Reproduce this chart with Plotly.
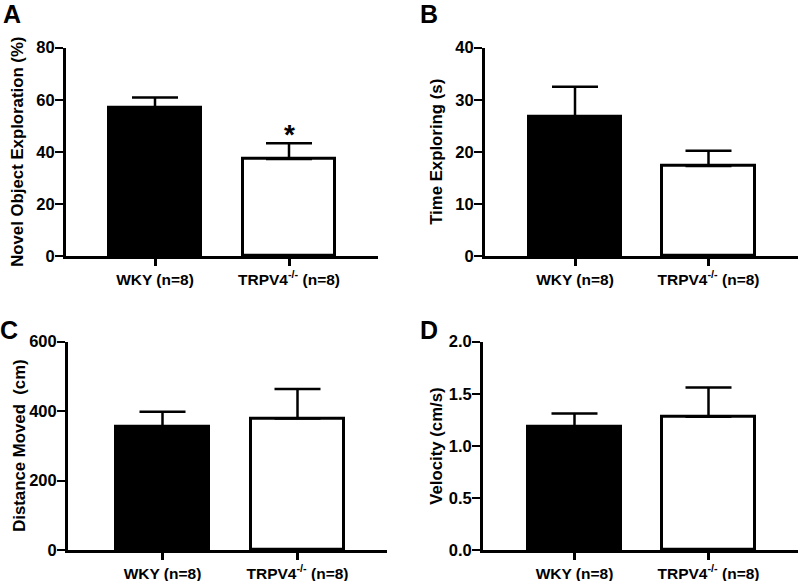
import plotly.graph_objects as go

W, H = 800, 581

categories = ["WKY (n=8)", "TRPV4<sup>-/-</sup> (n=8)"]
bar_colors = ["black", "white"]

a_mean = [57.0, 37.3]
a_err = [3.9, 6.0]
b_mean = [26.8, 17.3]
b_err = [5.7, 2.9]
c_mean = [355, 379]
c_err = [43, 85]
d_mean = [1.18, 1.28]
d_err = [0.13, 0.28]

a_ticks = [0, 20, 40, 60, 80]
b_ticks = [0, 10, 20, 30, 40]
c_ticks = [0, 200, 400, 600]
d_ticks = [0.0, 0.5, 1.0, 1.5, 2.0]

titles = ["Novel Object Exploration (%)", "Time Exploring (s)",
          "Distance Moved  (cm)", "Velocity (cm/s)"]
letters = ["A", "B", "C", "D"]

FONT = "Arial, Liberation Sans, sans-serif"

# pixel layout: (axis left, axis right, y bottom, y top, bar centre 1, bar centre 2, title x, letter x, letter y)
panels = [
    (a_mean, a_err, a_ticks, 66, 378, 256, 47.7, 155, 289, 18, 12, 14),
    (b_mean, b_err, b_ticks, 485, 798, 256, 47.7, 575, 708.5, 437, 429, 14),
    (c_mean, c_err, c_ticks, 68, 387, 550, 341.7, 162.5, 297.5, 20, 9, 330),
    (d_mean, d_err, d_ticks, 483, 798, 550, 341.7, 574.5, 708.5, 437, 429, 330),
]

fig = go.Figure()
annotations = []
for i, (mean, err, ticks, xl, xr, yb, yt, c1, c2, tx, lx, ly) in enumerate(panels):
    n = "" if i == 0 else str(i + 1)
    s = c2 - c1
    xrange = [-(c1 - xl) / s, 1 + (xr - c2) / s]
    fig.add_trace(go.Bar(
        x=[0, 1], y=mean, width=0.69,
        marker=dict(color=bar_colors, line=dict(color="black", width=3)),
        error_y=dict(type="data", array=err, arrayminus=[0, 0], symmetric=False,
                     color="black", thickness=2.5, width=23),
        xaxis="x" + n, yaxis="y" + n, showlegend=False, hoverinfo="skip",
    ))
    fig.layout["xaxis" + n] = dict(
        domain=[xl / W, xr / W], range=xrange, anchor="y" + n, automargin=False,
        tickvals=[0, 1], ticktext=categories, showline=True, linecolor="black",
        linewidth=3, ticks="outside", ticklen=7, tickwidth=3, tickcolor="black",
        showgrid=False, zeroline=False, fixedrange=True,
        tickfont=dict(family=FONT, size=15.5, color="black", weight="bold"),
    )
    fig.layout["yaxis" + n] = dict(
        domain=[1 - yb / H, 1 - yt / H], range=[ticks[0], ticks[-1]], anchor="x" + n,
        automargin=False, tickvals=ticks, tickformat=".1f" if i == 3 else "d",
        showline=True, linecolor="black", linewidth=3, ticks="outside",
        ticklen=8, tickwidth=2, tickcolor="black", showgrid=False, zeroline=False,
        ticklabelstandoff=-3, fixedrange=True,
        tickfont=dict(family=FONT, size=16.5, color="black", weight="bold"),
    )
    annotations.append(dict(
        text=titles[i], textangle=-90, x=tx / W, y=1 - (yb + yt) / 2 / H,
        xref="paper", yref="paper", showarrow=False, xanchor="center", yanchor="middle",
        font=dict(family=FONT, size=16.8, color="black", weight="bold"),
    ))
    annotations.append(dict(
        text=letters[i], x=lx / W, y=1 - ly / H, xref="paper", yref="paper",
        showarrow=False, xanchor="center", yanchor="middle",
        font=dict(family=FONT, size=25, color="black", weight="bold"),
    ))

annotations.append(dict(
    text="*", x=1, y=a_mean[1] + a_err[1], xref="x", yref="y", showarrow=False,
    yanchor="bottom", yshift=-9,
    font=dict(family=FONT, size=28, color="black", weight="bold"),
))

fig.update_layout(
    template="none",
    width=W, height=H, margin=dict(l=0, r=0, t=0, b=0, autoexpand=False),
    paper_bgcolor="white", plot_bgcolor="white",
    annotations=annotations, bargap=0,
)
fig.write_html("out.html", config={"displayModeBar": False},
               post_script="document.body.style.margin='0';")
